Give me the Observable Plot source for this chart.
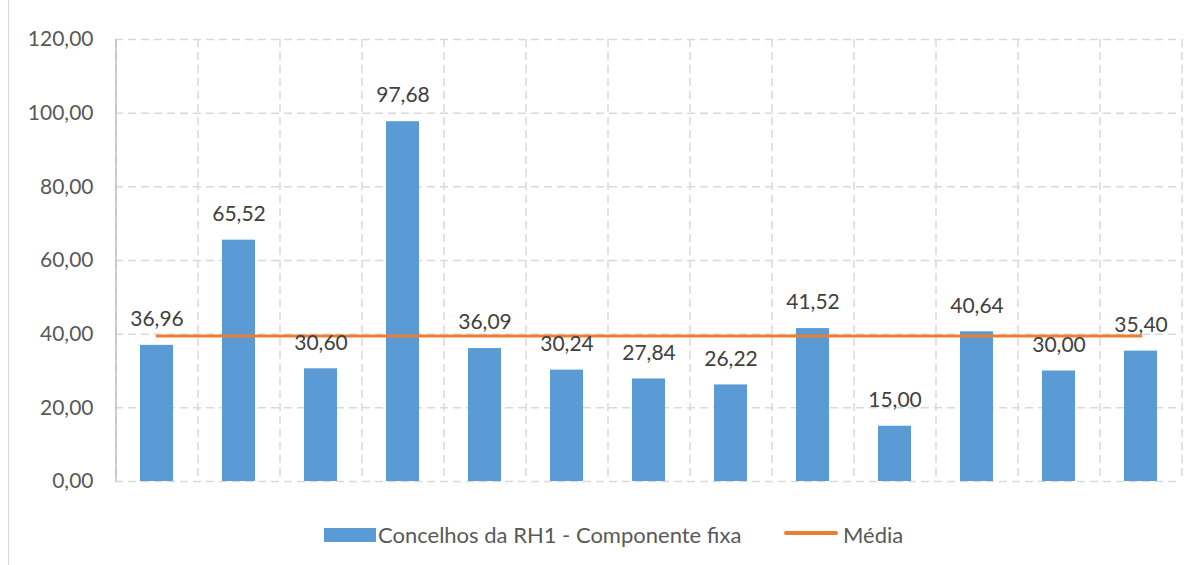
<!DOCTYPE html>
<html><head><meta charset="utf-8">
<script src="https://cdn.jsdelivr.net/npm/d3@7"></script>
<script src="https://cdn.jsdelivr.net/npm/@observablehq/plot@0.6"></script>
<style>
body{margin:0;background:#fff;font-family:Lato,sans-serif;}
#wrap{position:relative;width:1198px;height:565px;overflow:hidden;}
#border{position:absolute;left:8px;top:0;width:0;height:565px;border-left:1.5px solid #d9d9d9;}
#chart{position:absolute;left:0;top:0;}
#legend{position:absolute;left:0;top:520px;width:1198px;height:30px;font-size:22px;color:#595959;}
.sw{position:absolute;top:8px;width:52px;height:14px;background:#5B9BD5;}
.ln{position:absolute;top:11px;width:54px;height:4px;background:#ED7D31;border-radius:2px;}
.lt{position:absolute;top:0;line-height:30px;white-space:nowrap;}
</style></head>
<body><div id="wrap"><div id="border"></div><div id="chart"></div>
<div id="legend"></div></div>
<script>
const categories = ["1","2","3","4","5","6","7","8","9","10","11","12","13"];
const values = [36.96,65.52,30.60,97.68,36.09,30.24,27.84,26.22,41.52,15.00,40.64,30.00,35.40];
const yTicks = [0,20,40,60,80,100,120];
const seriesName = "Concelhos da RH1 - Componente fixa";
const meanName = "Média";

const data = categories.map((c,i)=>({c, v: values[i]}));
const mean = d3.mean(values);
const fmt = d => d.toFixed(2).replace(".", ",");
const W = 1198, ML = 115, MR = 17;
const step = (W - ML - MR) / categories.length;
const gridC = "#d9d9d9";

const plot = Plot.plot({
  width: W, height: 500,
  marginLeft: ML, marginRight: MR, marginTop: 39, marginBottom: 19,
  style: {fontFamily: "Lato, sans-serif", fontSize: "21px", color: "#595959", background: "transparent"},
  x: {domain: categories, paddingInner: 0.6, paddingOuter: 0.3, axis: null},
  y: {domain: [0,120], label: null},
  marks: [
    Plot.ruleY(yTicks, {stroke: gridC, strokeWidth: 1.5, strokeDasharray: "8,5"}),
    Plot.ruleX(categories, {x: d=>d, dx: -step/2, stroke: gridC, strokeWidth: 1.5, strokeDasharray: "8,5"}),
    Plot.ruleX([categories[categories.length-1]], {x: d=>d, dx: step/2, stroke: gridC, strokeWidth: 1.5, strokeDasharray: "8,5"}),
    Plot.ruleX([categories[0]], {x: d=>d, dx: -step/2, stroke: "#bfbfbf", strokeWidth: 1.5}),
    Plot.barY(data, {x: "c", y: "v", fill: "#5B9BD5"}),
    Plot.lineY(categories, {x: d=>d, y: () => mean, stroke: "#ED7D31", strokeWidth: 3}),
    Plot.text(data, {x: "c", y: "v", text: d=>fmt(d.v), dy: -26, fill: "#404040", fontSize: 21}),
    Plot.axisY({ticks: yTicks, tickFormat: fmt, tickSize: 0, tickPadding: 22, label: null, fill: "#595959", fontSize: 21})
  ]
});
document.getElementById("chart").appendChild(plot);

const lg = document.getElementById("legend");
lg.innerHTML = `<div class="sw" style="left:324px"></div><div class="lt" style="left:378px">${seriesName}</div>
<div class="ln" style="left:784px"></div><div class="lt" style="left:843px">${meanName}</div>`;
</script></body></html>
